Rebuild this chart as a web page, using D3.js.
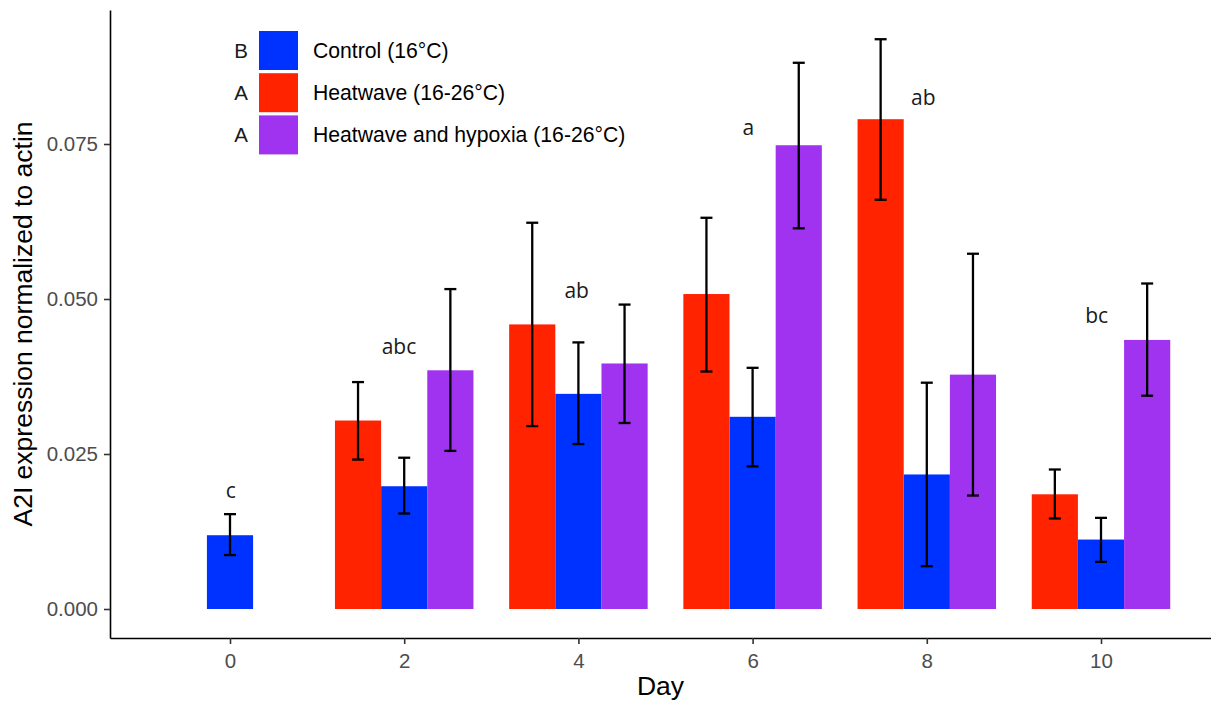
<!DOCTYPE html>
<html>
<head>
<meta charset="utf-8">
<script src="https://cdn.jsdelivr.net/npm/d3@7"></script>
<style>
  html, body { margin: 0; padding: 0; background: #fff; }
  svg { display: block; }
</style>
</head>
<body>
<svg id="chart" width="1211" height="703"></svg>
<script>
// ---------- data ----------
const days = [0, 2, 4, 6, 8, 10];
const seriesNames = ["Control (16°C)", "Heatwave (16-26°C)", "Heatwave and hypoxia (16-26°C)"];
const seriesLetters = ["B", "A", "A"];
const seriesColors = ["#0032FF", "#FF2300", "#A033EF"];
// bar order within a day: Heatwave (left), Control (centre), Hypoxia (right)
const seriesOffsets = [0, -1, 1];

// means (null = not measured)
const controlMean = [0.0119, 0.0198, 0.0347, 0.0310, 0.0217, 0.0112];
const heatMean    = [null,   0.0304, 0.0459, 0.0508, 0.0790, 0.0185];
const hypoxMean   = [null,   0.0385, 0.0396, 0.0748, 0.0378, 0.0434];
// error bar bounds
const controlLow  = [0.0087, 0.0154, 0.0266, 0.0230, 0.0069, 0.0076];
const controlHigh = [0.0153, 0.0244, 0.0430, 0.0389, 0.0365, 0.0147];
const heatLow     = [null,   0.0241, 0.0295, 0.0383, 0.0660, 0.0146];
const heatHigh    = [null,   0.0366, 0.0623, 0.0631, 0.0919, 0.0225];
const hypoxLow    = [null,   0.0255, 0.0300, 0.0614, 0.0183, 0.0344];
const hypoxHigh   = [null,   0.0516, 0.0491, 0.0881, 0.0573, 0.0525];

// significance letters per day
const dayLetters = ["c", "abc", "ab", "a", "ab", "bc"];
const dayLetterValue = [0.0179, 0.0411, 0.0502, 0.0765, 0.0813, 0.0461];
const dayLetterOffset = [0.01, -0.06, -0.02, -0.05, -0.04, -0.05];

const yTicks = [0, 0.025, 0.05, 0.075];
const xTicks = [0, 2, 4, 6, 8, 10];

// ---------- layout ----------
const svg = d3.select("#chart");
const panel = { left: 110, right: 1211, top: 10, bottom: 638 };
const barWidth = 0.53; // in day units

const x0 = d3.scaleLinear().domain([0, 10]).range([230, 1101]);
const x = d3.scaleLinear()
  .domain([x0.invert(panel.left), x0.invert(panel.right)])
  .range([panel.left, panel.right]);
const y0 = d3.scaleLinear().domain([0, 0.075]).range([609, 144]);
const y = d3.scaleLinear()
  .domain([y0.invert(panel.bottom), y0.invert(panel.top)])
  .range([panel.bottom, panel.top]);

const means = [controlMean, heatMean, hypoxMean];
const lows = [controlLow, heatLow, hypoxLow];
const highs = [controlHigh, heatHigh, hypoxHigh];

const rows = [];
seriesNames.forEach((name, s) => {
  days.forEach((d, i) => {
    if (means[s][i] == null) return;
    rows.push({ s, day: d, v: means[s][i], lo: lows[s][i], hi: highs[s][i] });
  });
});

// ---------- bars ----------
const bw = x(barWidth) - x(0);
svg.append("g").selectAll("rect").data(rows).join("rect")
  .attr("x", d => x(d.day + seriesOffsets[d.s] * barWidth - barWidth / 2))
  .attr("y", d => y(d.v))
  .attr("width", bw)
  .attr("height", d => y(0) - y(d.v))
  .attr("fill", d => seriesColors[d.s]);

// ---------- error bars ----------
const capHalf = 6;
const eg = svg.append("g").attr("stroke", "#000").attr("stroke-width", 2.3).attr("fill", "none");
rows.forEach(d => {
  const cx = x(d.day + seriesOffsets[d.s] * barWidth);
  eg.append("line").attr("x1", cx).attr("x2", cx).attr("y1", y(d.lo)).attr("y2", y(d.hi));
  eg.append("line").attr("x1", cx - capHalf).attr("x2", cx + capHalf).attr("y1", y(d.lo)).attr("y2", y(d.lo));
  eg.append("line").attr("x1", cx - capHalf).attr("x2", cx + capHalf).attr("y1", y(d.hi)).attr("y2", y(d.hi));
});

// ---------- significance letters ----------
svg.append("g").selectAll("text").data(days).join("text")
  .attr("x", (d, i) => x(d + dayLetterOffset[i]))
  .attr("y", (d, i) => y(dayLetterValue[i]))
  .attr("text-anchor", "middle")
  .attr("font-family", "'Open Sans', sans-serif")
  .attr("font-size", 21)
  .attr("fill", "#1a1a1a")
  .text((d, i) => dayLetters[i]);

// ---------- axes ----------
const axisFont = "'Liberation Sans', Arial, sans-serif";
const xAxis = svg.append("g").attr("transform", `translate(0,${panel.bottom})`)
  .call(d3.axisBottom(x).tickValues(xTicks).tickFormat(d3.format("d")).tickSize(6).tickSizeOuter(0).tickPadding(6));
const yAxis = svg.append("g").attr("transform", `translate(${panel.left},0)`)
  .call(d3.axisLeft(y).tickValues(yTicks).tickFormat(d3.format(".3f")).tickSize(6).tickSizeOuter(0).tickPadding(6));
[xAxis, yAxis].forEach(g => {
  g.select(".domain").attr("stroke", "#000").attr("stroke-width", 1.6);
  g.selectAll(".tick line").attr("stroke", "#333").attr("stroke-width", 1.6);
  g.selectAll(".tick text").attr("fill", "#4d4d4d").attr("font-family", axisFont).attr("font-size", 20.5);
});
xAxis.selectAll(".tick text").attr("dy", "0.9em");

// axis titles
svg.append("text")
  .attr("x", (panel.left + panel.right) / 2)
  .attr("y", 695)
  .attr("text-anchor", "middle")
  .attr("font-family", axisFont)
  .attr("font-size", 26.5)
  .attr("fill", "#000")
  .text("Day");
svg.append("text")
  .attr("transform", `translate(32,${(panel.top + panel.bottom) / 2}) rotate(-90)`)
  .attr("text-anchor", "middle")
  .attr("font-family", axisFont)
  .attr("font-size", 26.5)
  .attr("fill", "#000")
  .text("A2I expression normalized to actin");

// ---------- legend ----------
const legend = svg.append("g").attr("transform", "translate(259,31)");
const keyH = 42.2;
const li = legend.selectAll("g").data(seriesNames).join("g")
  .attr("transform", (d, i) => `translate(0,${i * keyH})`);
li.append("rect").attr("width", 39).attr("height", 39).attr("fill", (d, i) => seriesColors[i]);
li.append("text").attr("x", 54).attr("y", 19.5).attr("dy", "0.35em")
  .attr("font-family", axisFont).attr("font-size", 21.2).attr("fill", "#000")
  .text(d => d);
li.append("text").attr("x", -18).attr("y", 19.5).attr("dy", "0.36em")
  .attr("text-anchor", "middle")
  .attr("font-family", axisFont).attr("font-size", 20.5).attr("fill", "#1a1a1a")
  .text((d, i) => seriesLetters[i]);
</script>
</body>
</html>
